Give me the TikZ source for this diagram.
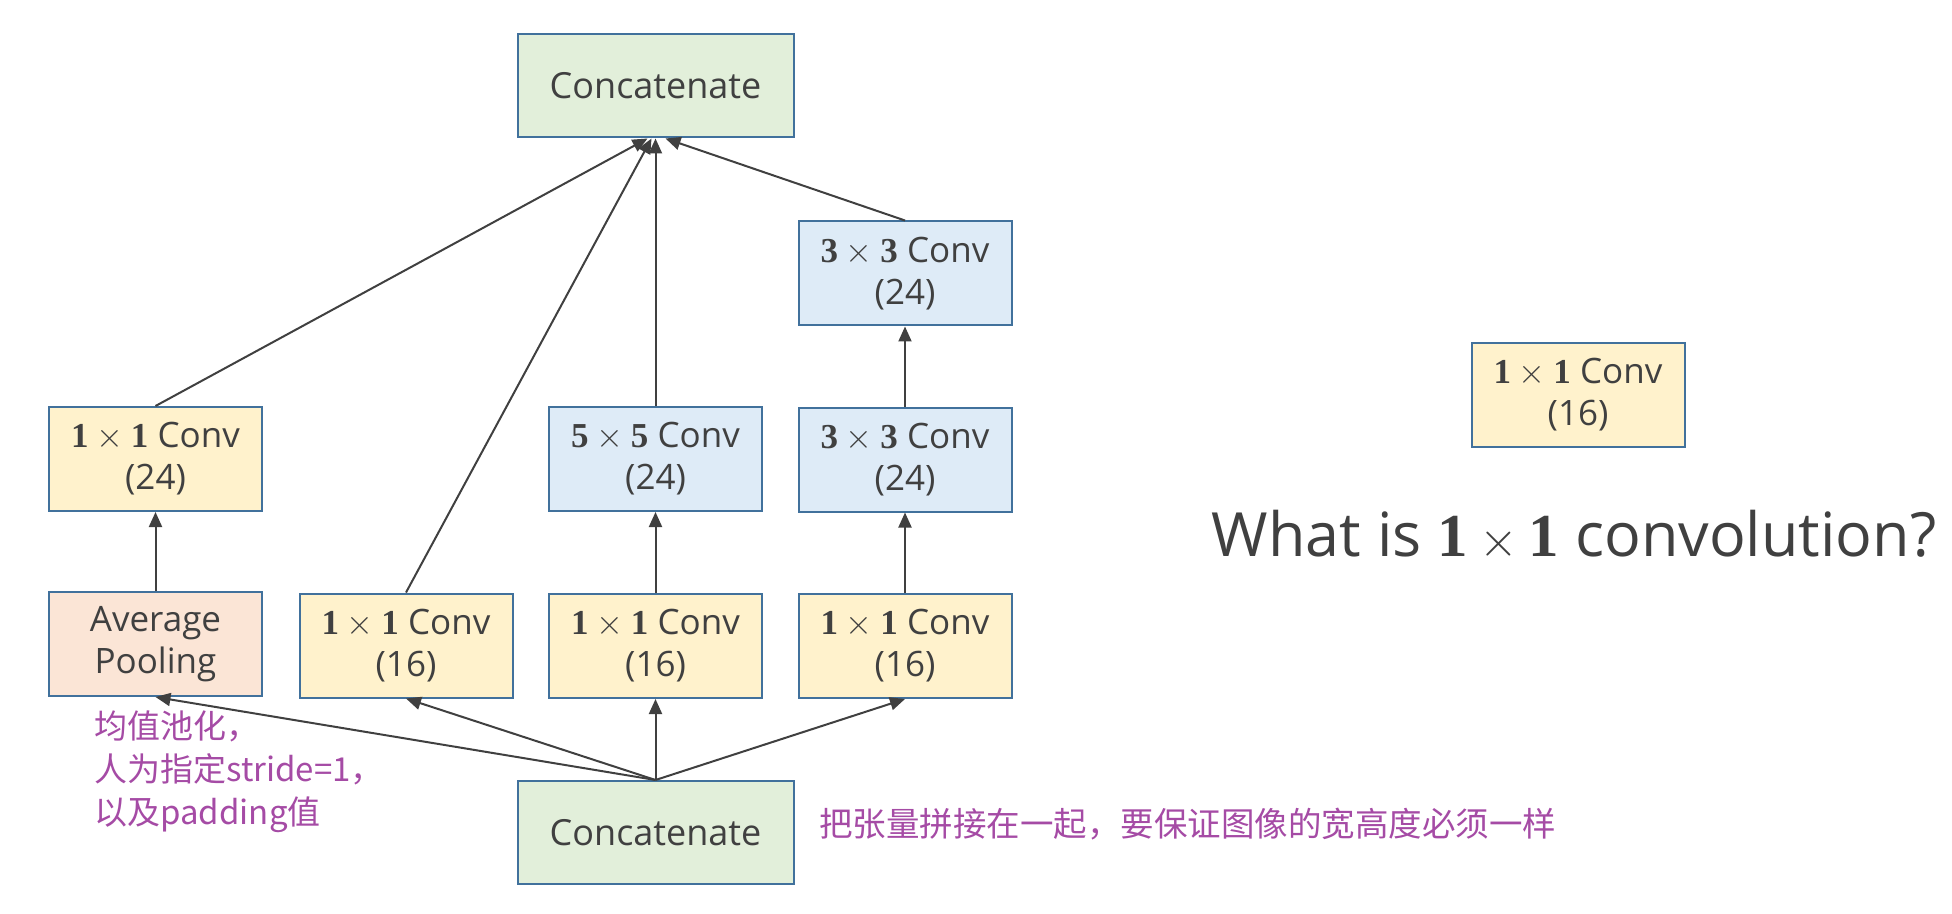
\documentclass[tikz,border=0pt]{standalone}
\usepackage[no-math]{fontspec}
\setmainfont{Open Sans}
\newfontfamily\cjk{Noto Sans CJK SC}
\newfontfamily\sernum{Liberation Serif}
\usetikzlibrary{arrows.meta}
\definecolor{txt}{HTML}{404040}
\definecolor{edgeblue}{HTML}{41719C}
\definecolor{yel}{HTML}{FFF2CC}
\definecolor{blu}{HTML}{DEEBF7}
\definecolor{grn}{HTML}{E2EFDA}
\definecolor{pnk}{HTML}{FBE5D6}
\definecolor{note}{RGB}{165,75,165}
\definecolor{arr}{HTML}{404040}
\newcommand{\oxo}[1]{$\mbox{\sernum\bfseries #1}\times\mbox{\sernum\bfseries #1}$}
\begin{document}
\begin{tikzpicture}[x=0.5pt,y=-0.5pt,
  box/.style={draw=edgeblue, line width=1pt, minimum width=106.5pt, minimum height=52pt,
    inner sep=0pt, align=center, text=txt, font=\fontsize{17.5}{21}\selectfont},
  ybox/.style={box, fill=yel},
  bbox/.style={box, fill=blu},
  pbox/.style={box, fill=pnk},
  gbox/.style={box, fill=grn, minimum width=138pt, minimum height=51.5pt, font=\fontsize{18}{21}\selectfont},
  link/.style={draw=arr, line width=1pt, -{Triangle[length=7.5pt,width=6.5pt]}},
  notetext/.style={text=note, align=left, inner sep=0pt, anchor=west},
]
\useasboundingbox (0,0) rectangle (1952,914);
% nodes
\node[gbox] (top) at (655.5,86) {Concatenate};
\node[gbox] (bot) at (655.5,832.5) {Concatenate};
\node[pbox] (avg) at (155.5,644) {Average\\Pooling};
\node[ybox] (c24) at (155.5,459) {\oxo{1} Conv\\(24)};
\node[ybox] (c2) at (406,645.5) {\oxo{1} Conv\\(16)};
\node[ybox] (c3) at (655.5,646) {\oxo{1} Conv\\(16)};
\node[bbox] (f5) at (655.5,459) {\oxo{5} Conv\\(24)};
\node[ybox] (c4) at (905,646) {\oxo{1} Conv\\(16)};
\node[bbox] (m3) at (905,459.5) {\oxo{3} Conv\\(24)};
\node[bbox] (t3) at (905,273.5) {\oxo{3} Conv\\(24)};
\node[ybox] (r1) at (1578,395) {\oxo{1} Conv\\(16)};
\node[text=txt, font=\fontsize{30.5}{36}\selectfont, inner sep=0pt] (q) at (1574,535) {What is \oxo{1} convolution?};
\node[notetext, font=\cjk\fontsize{16.5}{21.5}\selectfont] (n1) at (94,772) {均值池化，\\人为指定stride=1，\\以及padding值};
\node[notetext, font=\cjk\fontsize{16.75}{21}\selectfont] (n2) at (819,824) {把张量拼接在一起，要保证图像的宽高度必须一样};
% connectors
\draw[link] (bot.north) -- (avg.south);
\draw[link] (bot.north) -- (c2.south);
\draw[link] (bot.north) -- (c3.south);
\draw[link] (bot.north) -- (c4.south);
\draw[link] (avg.north) -- (c24.south);
\draw[link] (c3.north) -- (f5.south);
\draw[link] (c4.north) -- (m3.south);
\draw[link] (m3.north) -- (t3.south);
\draw[link] (c24.north) -- ([xshift=-4pt]top.south);
\draw[link] (c2.north) -- ([xshift=-2pt]top.south);
\draw[link] (f5.north) -- (top.south);
\draw[link] (t3.north) -- ([xshift=5pt]top.south);
\end{tikzpicture}
\end{document}
